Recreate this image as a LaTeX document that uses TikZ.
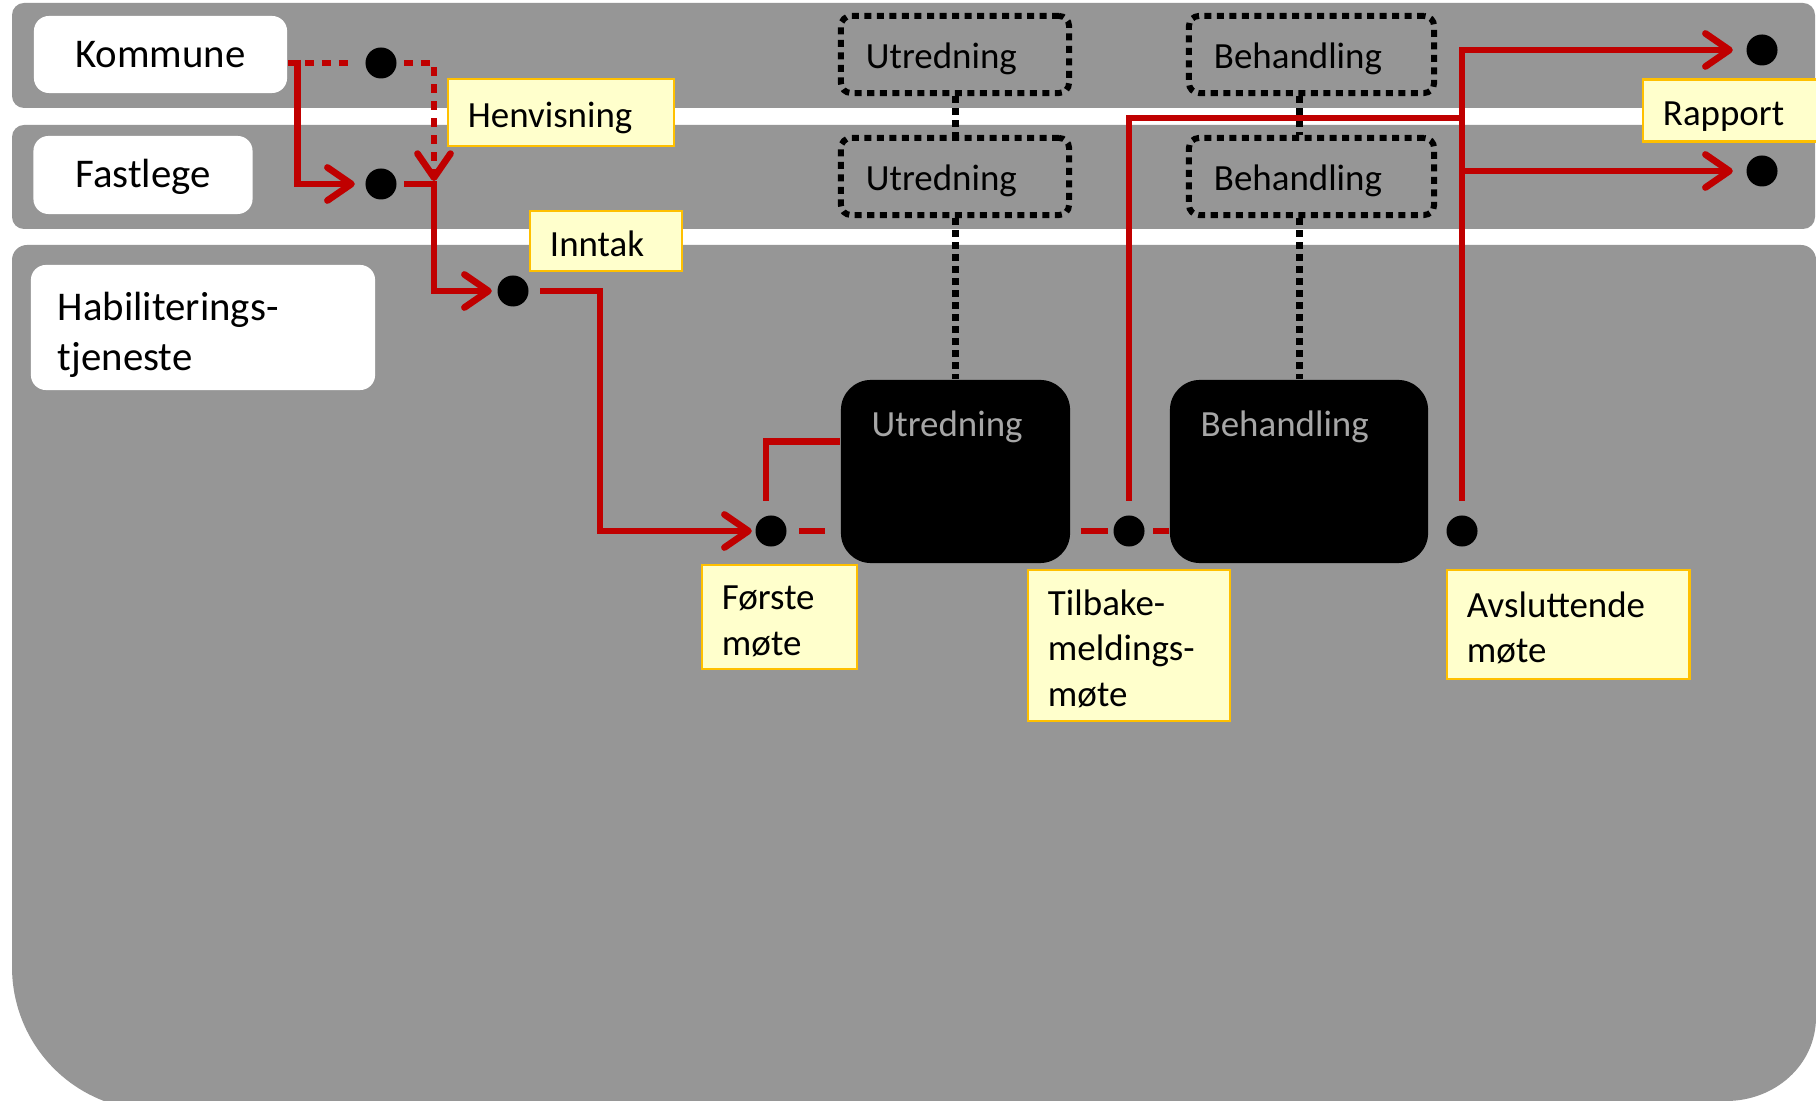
\documentclass[tikz,border=0pt]{standalone}
\usepackage{fontspec}
\setmainfont{Carlito}
\usetikzlibrary{arrows.meta,calc}
\definecolor{lanegray}{RGB}{150,150,150}
\definecolor{pred}{RGB}{192,0,0}
\definecolor{noteFill}{RGB}{255,255,204}
\definecolor{noteEdge}{RGB}{255,192,0}
\definecolor{titlegray}{RGB}{166,166,166}
\begin{document}
\begin{tikzpicture}[x=0.01cm, y=-0.01cm,
  lanebox/.style={fill=white, rounded corners=0.15cm, font=\fontsize{11.6}{14.2}\selectfont, inner sep=0pt, text height=0.26cm, text depth=0pt},
  notebox/.style={fill=noteFill, draw=noteEdge, line width=0.8pt, font=\fontsize{10.5}{12.8}\selectfont, align=left, inner xsep=0.2cm, inner ysep=0pt, text height=0.31cm, text depth=0pt},
  ghostbox/.style={draw=black, line width=0.06cm, dash pattern=on 0.07cm off 0.055cm, rounded corners=0.1cm, font=\fontsize{10.5}{12.8}\selectfont, align=left, inner xsep=0.25cm, inner ysep=0pt, text height=0.28cm, text depth=0pt, minimum height=0.77cm},
  phasebox/.style={fill=black, rounded corners=0.3cm, minimum height=1.83cm, inner sep=0pt},
  phasetitle/.style={text=titlegray, font=\fontsize{10.5}{12.8}\selectfont, anchor=base west, inner sep=0pt},
  pdot/.style={circle, fill=black, minimum size=0.31cm, inner sep=0pt},
  redflow/.style={draw=pred, line width=0.067cm},
  redflowdot/.style={redflow, dash pattern=on 0.09cm off 0.08cm},
  redtip/.style={-{Straight Barb[length=0.24cm, width=0.33cm, round]}},
  linkdot/.style={draw=black, line width=0.07cm, dash pattern=on 0.065cm off 0.055cm}
]
\useasboundingbox (0,0) rectangle (1816,1101);
\fill[white] (0,0) rectangle (1816,1101);

% lanes
\fill[lanegray, rounded corners=0.12cm] (12,3) rectangle (1815,108);
\fill[lanegray, rounded corners=0.12cm] (12,125) rectangle (1815,229);
\fill[lanegray] (12,260) .. controls (12,251.7) and (18.7,245) .. (27,245) -- (1801,245)
  .. controls (1809.3,245) and (1816,251.7) .. (1816,260) -- (1816,1017)
  .. controls (1816,1065) and (1775,1101) .. (1726,1101) -- (104,1101)
  .. controls (48.4,1079.7) and (12,1026.5) .. (12,967) -- cycle;

% lane names
\node[lanebox, minimum width=2.53cm, minimum height=0.77cm] (kom) at (160.5,54.5) {Kommune};
\node[lanebox, minimum width=2.19cm, minimum height=0.78cm] (fas) at (143,175) {Fastlege};
\node[lanebox, minimum height=1.25cm, align=left, text width=2.9cm, inner xsep=0.27cm, text depth=0.40cm,
      font=\fontsize{11.6}{14.2}\selectfont] (hab) at (203,327.5) {Habiliterings-\\tjeneste};

% ghost boxes
\node[ghostbox, text width=1.78cm] (u1) at (955,54.5) {Utredning};
\node[ghostbox, text width=1.95cm] (b1) at (1311.5,54.5) {Behandling};
\node[ghostbox, text width=1.78cm] (u2) at (955,176.5) {Utredning};
\node[ghostbox, text width=1.95cm] (b2) at (1311.5,176.5) {Behandling};

% phase boxes
\node[phasebox, minimum width=2.29cm] (utr) at (955.5,471.5) {};
\node[phasebox, minimum width=2.58cm] (beh) at (1299,471.5) {};
\node[phasetitle] (utrT) at (871,437) {Utredning};
\node[phasetitle] (behT) at (1200,437) {Behandling};

% dotted links
\draw[linkdot] (u1.south) -- (u2.north);
\draw[linkdot] (u2.south) -- (u2.south |- utr.north);
\draw[linkdot] (b1.south -| beh.north) -- (b2.north -| beh.north);
\draw[linkdot] (b2.south -| beh.north) -- (beh.north);

% notes
\node[notebox, text width=1.86cm, minimum height=0.67cm] (henv) at (561,112.5) {Henvisning};
\node[notebox, text width=1.12cm, minimum height=0.60cm] (innt) at (606,241) {Inntak};
\node[notebox, text width=1.60cm, minimum height=0.62cm] (rap) at (1743,110.5) {Rapport};
\node[notebox, text width=1.15cm, minimum height=1.04cm, text depth=0.45cm] (f1) at (779.5,617) {Første\\møte};
\node[notebox, text width=1.62cm, minimum height=1.51cm, text depth=0.90cm] (tb) at (1129,645.5) {Tilbake-\\meldings-\\møte};
\node[notebox, text width=2.02cm, minimum height=1.09cm, text depth=0.45cm] (av) at (1568,624.5) {Avsluttende\\møte};

% dots
\node[pdot] (dK) at (381,63) {};
\node[pdot] (dF) at (381,184) {};
\node[pdot] (dI) at (513,291) {};
\node[pdot] (d1) at (771,531) {};
\node[pdot] (d2) at (1129,531) {};
\node[pdot] (d3) at (1462,531) {};
\node[pdot] (r1) at (1762,50) {};
\node[pdot] (r2) at (1762,171) {};

\coordinate (jF) at (434,184);
\coordinate (jI) at (600,291);
\coordinate (jA) at (1462,118);

% red flows
\draw[redflowdot, shorten >=0.09cm] (kom.east |- dK) -- (dK);
\draw[redflow, redtip, shorten >=0.1cm] ($(kom.east |- dK)+(10,-3)$) |- (dF);
\draw[redflowdot, redtip, shorten <=0.07cm, shorten >=0.03cm] (dK) -| (jF);
\draw[redflow, redtip, shorten <=0.07cm, shorten >=0.05cm] (dF) -- (jF) |- (dI);
\draw[redflow, redtip, shorten <=0.11cm, shorten >=0.03cm] (dI) -- (jI) |- (d1);
\draw[redflow, shorten <=0.12cm, shorten >=0.15cm] (d1) -- (utr.west |- d1);
\draw[redflow] ($(d1.north)+(-5,-14)$) |- ($(utr.west)+(0,-30)$);
\draw[redflow, shorten <=0.1cm, shorten >=0.05cm] (utr.east |- d2) -- (d2);
\draw[redflow, shorten <=0.08cm] (d2) -- (beh.west |- d2);
\draw[redflow] ($(d2.north)+(0,-14)$) |- (jA);
\draw[redflow, redtip, shorten >=0.13cm] ($(d3.north)+(0,-14)$) |- (r1);
\draw[redflow, redtip, shorten >=0.13cm] (d3 |- r2) -- (r2);
\end{tikzpicture}
\end{document}
